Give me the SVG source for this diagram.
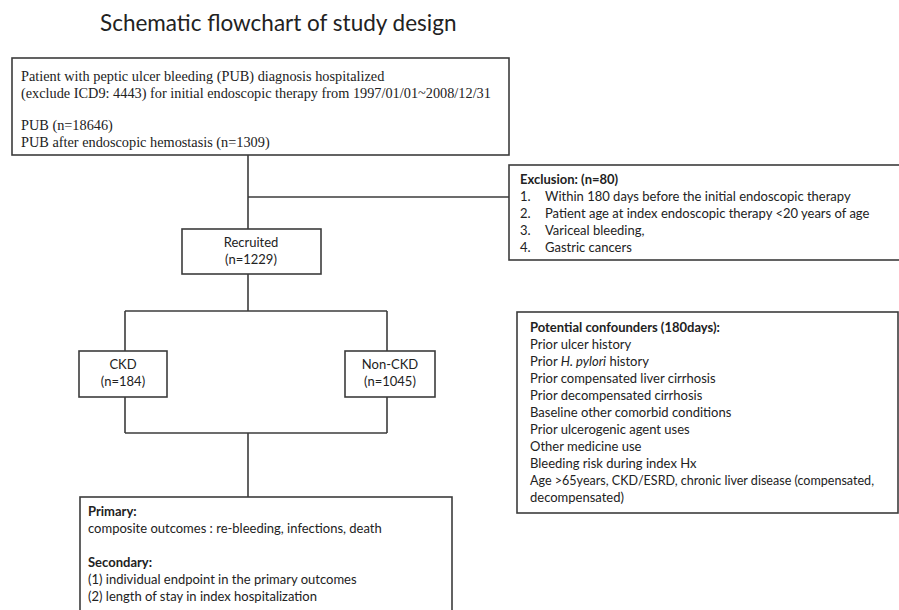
<svg xmlns="http://www.w3.org/2000/svg" width="899" height="610" viewBox="0 0 899 610">
<style>
.box{fill:#fff;stroke:#3c3c3c;stroke-width:1.6}
.ln{fill:none;stroke:#3c3c3c;stroke-width:1.6}
.t{font-family:Lato,"Liberation Sans",sans-serif;font-size:13px;fill:#222}
.s{font-family:"Liberation Serif","Times New Roman",serif;font-size:14.3px;fill:#222}
.b{font-weight:bold}
.c{text-anchor:middle}
.title{font-family:Lato,"Liberation Sans",sans-serif;font-size:22.5px;fill:#222}
</style>
<rect width="899" height="610" fill="#fff"/>
<text class="title" x="100" y="31">Schematic flowchart of study design</text>
<g id="connectors">
<path class="ln" d="M248 155V229M248 197H509M248 274V311M125 311H387M125 311V351M387 311V351M125 397V433M387 397V433M125 433H387M248 433V497"/>
</g>
<g id="pub">
<rect class="box" x="12" y="58" width="497" height="97"/>
<text class="s" x="21" y="81">Patient with peptic ulcer bleeding (PUB) diagnosis hospitalized</text>
<text class="s" x="21" y="98">(exclude ICD9: 4443) for initial endoscopic therapy from 1997/01/01~2008/12/31</text>
<text class="s" x="21" y="130">PUB (n=18646)</text>
<text class="s" x="21" y="147">PUB after endoscopic hemostasis (n=1309)</text>
</g>
<g id="exclusion">
<rect class="box" x="509" y="165" width="400" height="95"/>
<text class="t b" x="520" y="184">Exclusion: (n=80)</text>
<text class="t" x="520" y="201">1.</text><text class="t" x="545" y="201">Within 180 days before the initial endoscopic therapy</text>
<text class="t" x="520" y="218">2.</text><text class="t" x="545" y="218">Patient age at index endoscopic  therapy &lt;20 years of age</text>
<text class="t" x="520" y="235">3.</text><text class="t" x="545" y="235">Variceal bleeding,</text>
<text class="t" x="520" y="252">4.</text><text class="t" x="545" y="252">Gastric cancers</text>
</g>
<g id="recruited">
<rect class="box" x="182" y="229" width="139" height="45"/>
<text class="t c" x="251" y="247">Recruited</text>
<text class="t c" x="251" y="264">(n=1229)</text>
</g>
<g id="ckd">
<rect class="box" x="79" y="351" width="88" height="46"/>
<text class="t c" x="123" y="369">CKD</text>
<text class="t c" x="123" y="386">(n=184)</text>
</g>
<g id="nonckd">
<rect class="box" x="345" y="351" width="90" height="46"/>
<text class="t c" x="390" y="369">Non-CKD</text>
<text class="t c" x="390" y="386">(n=1045)</text>
</g>
<g id="confounders">
<rect class="box" x="517" y="312" width="381" height="201"/>
<text class="t b" x="530" y="332">Potential confounders (180days):</text>
<text class="t" x="530" y="349">Prior ulcer history</text>
<text class="t" x="530" y="366">Prior <tspan font-style="italic">H. pylori</tspan> history</text>
<text class="t" x="530" y="383">Prior compensated liver cirrhosis</text>
<text class="t" x="530" y="400">Prior decompensated  cirrhosis</text>
<text class="t" x="530" y="417">Baseline other comorbid  conditions</text>
<text class="t" x="530" y="434">Prior ulcerogenic  agent uses</text>
<text class="t" x="530" y="451">Other medicine  use</text>
<text class="t" x="530" y="468">Bleeding risk during  index Hx</text>
<text class="t" x="530" y="485" textLength="344" lengthAdjust="spacingAndGlyphs">Age &gt;65years, CKD/ESRD, chronic  liver disease (compensated,</text>
<text class="t" x="530" y="502">decompensated)</text>
</g>
<g id="outcomes">
<rect class="box" x="80" y="497" width="372" height="130"/>
<text class="t b" x="88" y="516">Primary:</text>
<text class="t" x="88" y="533">composite outcomes : re-bleeding, infections, death</text>
<text class="t b" x="88" y="567">Secondary:</text>
<text class="t" x="88" y="584">(1) individual  endpoint  in the primary outcomes</text>
<text class="t" x="88" y="601">(2) length of stay in index hospitalization</text>
</g>
</svg>
